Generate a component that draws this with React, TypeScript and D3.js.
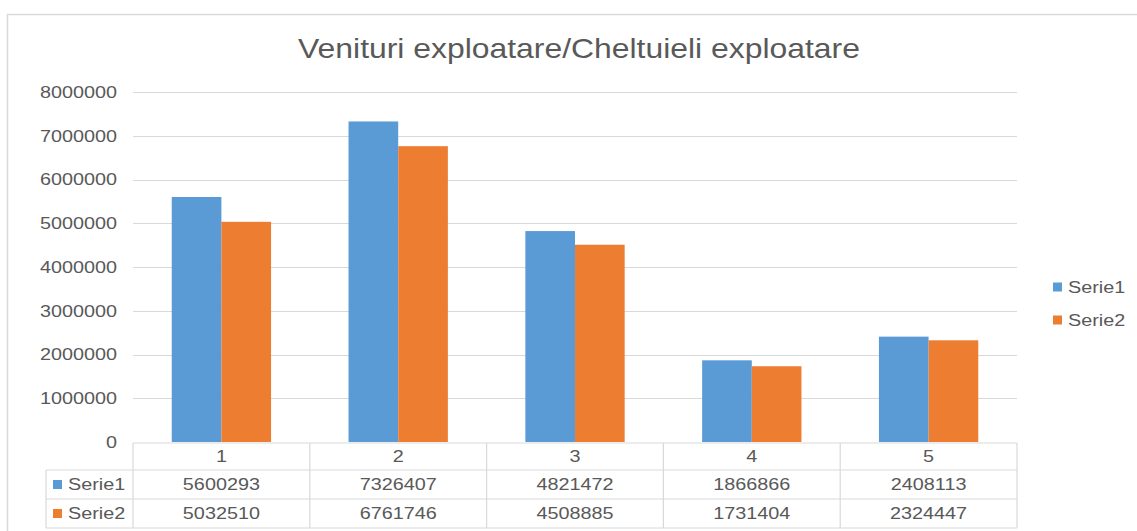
import React from "react";
import * as d3 from "d3";

const categories = ["1", "2", "3", "4", "5"];
const serie1 = [5600293, 7326407, 4821472, 1866866, 2408113];
const serie2 = [5032510, 6761746, 4508885, 1731404, 2324447];
const seriesNames = ["Serie1", "Serie2"];
const yTicks = [0, 1000000, 2000000, 3000000, 4000000, 5000000, 6000000, 7000000, 8000000];
const title = "Venituri exploatare/Cheltuieli exploatare";

const colors = ["#5B9BD5", "#ED7D31"];
const textColor = "#595959";
const gridColor = "#D9D9D9";
const font = "'Liberation Sans', Arial, sans-serif";
const SX = 1.2;

function Txt({ x, y, anchor = "start", size = 16.5, sx = SX, children }: any) {
  return (
    <text transform={`translate(${x},${y}) scale(${sx},1)`} dy="0.35em" textAnchor={anchor} fontSize={size} fill={textColor}>
      {children}
    </text>
  );
}

export default function App() {
  const W = 1137, H = 531;
  const left = 133, right = 1017, top = 92, bottom = 442;
  const x = d3.scaleBand<string>().domain(categories).range([left, right]).paddingInner(0).paddingOuter(0);
  const y = d3.scaleLinear().domain([0, 8000000]).range([bottom, top]);
  const inner = d3.scaleBand<number>().domain([0, 1]).range([0, x.bandwidth()]).paddingOuter(0.78).paddingInner(0);
  const series = [serie1, serie2];
  const rowTop = 443, rowH = [27, 29, 29];
  const row1 = rowTop + rowH[0];
  const row2 = row1 + rowH[1];
  const row3 = row2 + rowH[2];
  const tableLeft = 46;

  return (
    <svg width={W} height={H} style={{ position: "absolute", left: 0, top: 0, fontFamily: font }}>
      <rect x={0} y={0} width={W} height={H} fill="#fff" />
      <rect x={7.5} y={14.5} width={W + 20} height={H + 20} fill="none" stroke="#D9D9D9" strokeWidth={1.5} />
      <text transform={`translate(579,58) scale(1.16,1)`} textAnchor="middle" fontSize={27.5} fill={textColor}>{title}</text>
      {yTicks.map((t) => (
        <g key={t}>
          {t > 0 && <line x1={left} x2={right} y1={Math.round(y(t)) + 0.5} y2={Math.round(y(t)) + 0.5} stroke={gridColor} />}
          <Txt x={117} y={y(t)} anchor="end">{t}</Txt>
        </g>
      ))}
      {series.map((s, si) =>
        s.map((v, i) => (
          <rect key={`${si}-${i}`} x={(x(categories[i]) ?? 0) + (inner(si) ?? 0)} y={y(v)} width={inner.bandwidth()} height={bottom - y(v)} fill={colors[si]} />
        ))
      )}
      <g stroke={gridColor} strokeWidth={1.2} fill="none">
        <line x1={left} x2={right} y1={rowTop} y2={rowTop} />
        <line x1={tableLeft} x2={right} y1={row1} y2={row1} />
        <line x1={tableLeft} x2={right} y1={row2} y2={row2} />
        <line x1={tableLeft} x2={right} y1={row3} y2={row3} />
        <line x1={tableLeft} x2={tableLeft} y1={row1} y2={row3} />
        {categories.map((c) => (
          <line key={c} x1={x(c)} x2={x(c)} y1={rowTop} y2={row3} />
        ))}
        <line x1={right} x2={right} y1={rowTop} y2={row3} />
      </g>
      {categories.map((c, i) => {
        const cx = (x(c) ?? 0) + x.bandwidth() / 2;
        return (
          <g key={c}>
            <Txt x={cx} y={rowTop + rowH[0] / 2} anchor="middle">{c}</Txt>
            <Txt x={cx} y={row1 + rowH[1] / 2} anchor="middle">{serie1[i]}</Txt>
            <Txt x={cx} y={row2 + rowH[2] / 2} anchor="middle">{serie2[i]}</Txt>
          </g>
        );
      })}
      {seriesNames.map((n, si) => {
        const cy = si === 0 ? row1 + rowH[1] / 2 : row2 + rowH[2] / 2;
        return (
          <g key={n}>
            <rect x={53} y={cy - 4.5} width={9} height={9} fill={colors[si]} />
            <Txt x={68} y={cy}>{n}</Txt>
          </g>
        );
      })}
      {seriesNames.map((n, si) => {
        const cy = 287 + si * 33;
        return (
          <g key={n}>
            <rect x={1053} y={cy - 4.5} width={9} height={9} fill={colors[si]} />
            <Txt x={1068} y={cy}>{n}</Txt>
          </g>
        );
      })}
    </svg>
  );
}
